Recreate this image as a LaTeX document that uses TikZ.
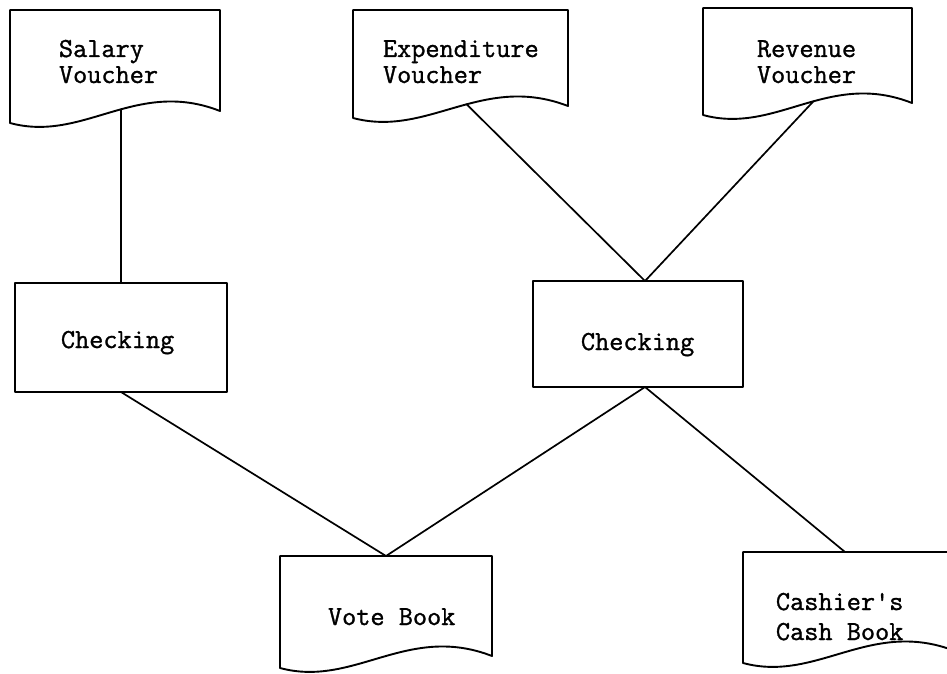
\documentclass[tikz,border=0pt]{standalone}
\usepackage{fontspec}
\usetikzlibrary{calc}
\newfontfamily\typew{Latin Modern Mono}[FakeBold=1.2]
% Document symbol: straight top and sides, wavy bottom edge.
% #1 = node holding the box, #2 = coordinate placed on the wavy edge
\newcommand\docoutline[2]{%
  \draw (#1.south west) -- (#1.north west) -- (#1.north east)
    -- ($(#1.south east)+(0,-12)$)
    .. controls ($(#1.south west)!0.6!(#1.south east)+(0,-45)$)
           and ($(#1.south west)!0.35!(#1.south east)+(0,20)$)
    .. coordinate[pos=0.45] (#2) (#1.south west) -- cycle;}
\begin{document}
\begin{tikzpicture}[x=1pt,y=-1pt,line width=1.9pt,line join=round,
  docbox/.style={draw=none,rectangle,inner sep=0pt,outer sep=0pt},
  procbox/.style={draw,rectangle,inner sep=0pt,outer sep=0pt},
  lbl/.style={font=\fontsize{27.5}{26}\selectfont\typew\bfseries,align=left,
    inner sep=0pt,anchor=base west},
  link/.style={draw,line cap=round,line width=1.7pt}]
\useasboundingbox (0,0) rectangle (947,674);

% document boxes
\node[docbox,minimum width=210pt,minimum height=113pt] (sv) at (115,66.5) {};
\node[docbox,minimum width=215pt,minimum height=108pt] (ev) at (460.5,64) {};
\node[docbox,minimum width=209pt,minimum height=107pt] (rv) at (807.5,61.5) {};
\node[docbox,minimum width=212pt,minimum height=112pt] (vb) at (386,612) {};
\node[docbox,minimum width=212pt,minimum height=111pt] (cb) at (849,607.5) {};

% process boxes
\node[procbox,minimum width=212pt,minimum height=109pt] (chkL) at (121,337.5) {};
\node[procbox,minimum width=210pt,minimum height=106pt] (chkR) at (638,334) {};

\docoutline{sv}{svw}
\docoutline{ev}{evw}
\docoutline{rv}{rvw}
\docoutline{vb}{vbw}
\docoutline{cb}{cbw}

% labels (multi-line labels sit on the baseline of their last line)
\node[lbl] (svt) at (58,83) {Salary\\Voucher};
\node[lbl] (evt) at (382,83) {Expenditure\\Voucher};
\node[lbl] (rvt) at (756,83) {Revenue\\Voucher};
\node[lbl] (chkLt) at (60,348) {Checking};
\node[lbl] (chkRt) at (580,350) {Checking};
\node[lbl] (vbt) at (327,625) {Vote Book};
\node[lbl,font=\fontsize{27.5}{30}\selectfont\typew\bfseries] (cbt) at (775,640) {Cashier's\\Cash Book};

% junction points on the right-hand checking box and the cash book
\coordinate (jt) at ($(chkR.north)+(7,0)$);
\coordinate (jb) at ($(chkR.south)+(7,0)$);
\coordinate (jc) at ($(cb.north)+(-4,0)$);

% connectors
\path[link] (svw) -- (chkL.north);
\path[link] (evw) -- (jt);
\path[link] (rvw) -- (jt);
\path[link] (chkL.south) -- (vb.north);
\path[link] (jb) -- (vb.north);
\path[link] (jb) -- (jc);
\end{tikzpicture}
\end{document}
